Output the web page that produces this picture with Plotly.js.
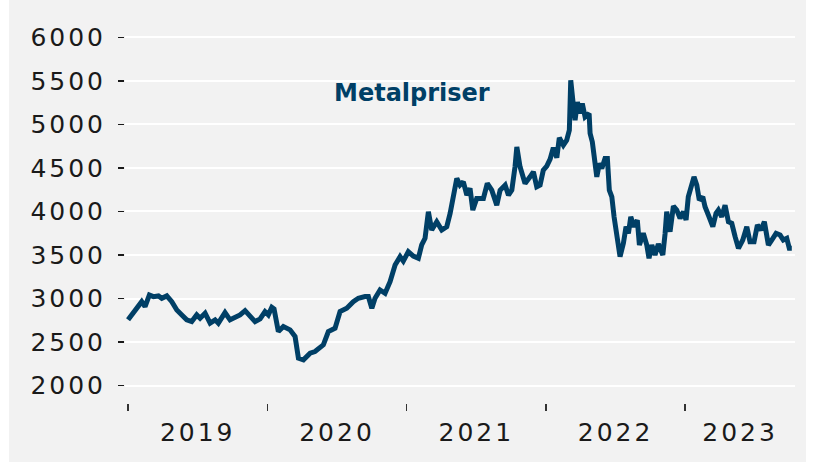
<!DOCTYPE html>
<html>
<head>
<meta charset="utf-8">
<script src="https://cdn.plot.ly/plotly-3.0.1.min.js"></script>
<style>
  html, body { margin: 0; padding: 0; background: #ffffff; }
  #chart { position: absolute; left: 9px; top: 0px; width: 797px; height: 462px; }
  #chart .xtick text, #chart .ytick text { letter-spacing: 3px; }
</style>
</head>
<body>
<div id="chart"></div>
<script>
// Time in decimal years
const years = [
  2019.000, 2019.027, 2019.062, 2019.098, 2019.122, 2019.153, 2019.182, 2019.218, 2019.242, 2019.278,
  2019.314, 2019.350, 2019.386, 2019.421, 2019.457, 2019.493, 2019.517, 2019.553, 2019.589, 2019.625,
  2019.648, 2019.696, 2019.732, 2019.768, 2019.804, 2019.840, 2019.876, 2019.912,
  2019.948, 2019.983, 2020.007, 2020.032, 2020.048, 2020.079, 2020.115, 2020.163, 2020.199, 2020.223,
  2020.259, 2020.307, 2020.342, 2020.378, 2020.402, 2020.438, 2020.486, 2020.522, 2020.570, 2020.617,
  2020.653, 2020.701, 2020.725, 2020.750, 2020.773, 2020.809, 2020.845, 2020.881, 2020.917, 2020.953,
  2020.976, 2021.012, 2021.048, 2021.084, 2021.108, 2021.132, 2021.156, 2021.180, 2021.216, 2021.252,
  2021.288, 2021.312, 2021.335, 2021.360, 2021.383, 2021.407, 2021.432, 2021.455, 2021.475, 2021.503,
  2021.551, 2021.579, 2021.611, 2021.647, 2021.671, 2021.707, 2021.731, 2021.755, 2021.778, 2021.791,
  2021.814, 2021.850, 2021.886, 2021.910, 2021.934, 2021.958,
  2021.981, 2022.006, 2022.030, 2022.053, 2022.078, 2022.096, 2022.125, 2022.149, 2022.168, 2022.178,
  2022.193, 2022.209, 2022.226, 2022.245, 2022.261, 2022.281, 2022.310, 2022.317, 2022.333, 2022.348,
  2022.365, 2022.384, 2022.401, 2022.424, 2022.441, 2022.455, 2022.473, 2022.489, 2022.513, 2022.532,
  2022.556, 2022.575, 2022.592, 2022.609, 2022.633, 2022.656, 2022.671, 2022.699, 2022.724,
  2022.740, 2022.760, 2022.783, 2022.807, 2022.839, 2022.855, 2022.867, 2022.891, 2022.915, 2022.939,
  2022.963, 2022.987, 2023.006, 2023.022, 2023.047, 2023.063, 2023.083, 2023.101, 2023.126, 2023.142,
  2023.166, 2023.198, 2023.221, 2023.238, 2023.262, 2023.286, 2023.310, 2023.334, 2023.358, 2023.382,
  2023.413, 2023.442, 2023.465, 2023.494, 2023.518, 2023.544, 2023.568, 2023.597, 2023.621, 2023.652,
  2023.681, 2023.704, 2023.729, 2023.747, 2023.765
];
const metalPrices = [
  2755, 2812, 2907, 2964, 2907, 3041, 3022, 3030, 3003, 3030,
  2964, 2869, 2812, 2755, 2735, 2812, 2774, 2831, 2717, 2755,
  2717, 2838, 2755, 2785, 2812, 2861, 2792, 2735,
  2766, 2850, 2812, 2900, 2881, 2620, 2678, 2640, 2563, 2315,
  2296, 2373, 2391, 2430, 2468, 2620, 2659, 2850, 2889, 2964,
  3003, 3022, 3022, 2889, 3003, 3099, 3061, 3194, 3385, 3481,
  3430, 3538, 3488, 3462, 3615, 3692, 3997, 3787, 3882, 3787,
  3825, 3978, 4150, 4380, 4303, 4341, 4188, 4265, 4016, 4150,
  4150, 4322, 4245, 4073, 4245, 4303, 4188, 4245, 4513, 4742,
  4513, 4322, 4398, 4455, 4283, 4303,
  4475, 4521, 4601, 4733, 4618, 4847, 4761, 4819, 4933, 5507,
  5278, 5048, 5258, 5125, 5240, 5086, 5125, 4896, 4799, 4627,
  4398, 4552, 4494, 4609, 4609, 4245, 4169, 3939, 3710, 3481,
  3634, 3825, 3749, 3939, 3825, 3901, 3615, 3749, 3615,
  3462, 3615, 3500, 3626, 3500, 3741, 3997, 3767, 4062, 4016,
  3921, 3997, 3901, 4169, 4341, 4398, 4303, 4131, 4169, 4054,
  3959, 3825, 3978, 4016, 3939, 4073, 3882, 3864, 3710, 3577,
  3672, 3825, 3653, 3653, 3844, 3787, 3882, 3615, 3672, 3749,
  3729, 3672, 3692, 3577, 3577
];
const yearLabels = ['2019', '2020', '2021', '2022', '2023'];
const yTickValues = [2000, 2500, 3000, 3500, 4000, 4500, 5000, 5500, 6000];
const seriesName = 'Metalpriser';

const xRange = [2018.978, 2023.788];
const yRange = [1800, 6050];

// label in the middle of the visible part of each year
const labelPos = yearLabels.map(l => {
  const s = Math.max(+l, xRange[0]);
  const e = Math.min(+l + 1, xRange[1]);
  return (s + e) / 2;
});
const yearStarts = yearLabels.map(l => +l);

const lineColor = '#003f66';
const tickFont = { family: 'DejaVu Sans, sans-serif', size: 25, color: '#1a1a1a' };

const trace = {
  x: years, y: metalPrices, type: 'scatter', mode: 'lines', name: seriesName,
  line: { color: lineColor, width: 5 }, hoverinfo: 'skip'
};

const layout = {
  width: 797, height: 462,
  paper_bgcolor: '#f2f2f2', plot_bgcolor: '#f2f2f2',
  margin: { l: 116, r: 11, t: 32.6, b: 58.6, pad: 0 },
  showlegend: false,
  xaxis: {
    type: 'linear', range: xRange, showgrid: false, zeroline: false, showline: false,
    tickmode: 'array', tickvals: labelPos, ticktext: yearLabels, ticks: '',
    tickfont: tickFont, ticklabelstandoff: 12,
    minor: { tickmode: 'array', tickvals: yearStarts, ticks: 'outside', ticklen: 7, tickwidth: 1.5, tickcolor: '#333333', showgrid: false }
  },
  yaxis: {
    range: yRange, tickmode: 'array', tickvals: yTickValues,
    showgrid: true, gridcolor: '#ffffff', gridwidth: 2, zeroline: false, showline: false,
    ticks: 'outside', ticklen: 6, tickwidth: 1.5, tickcolor: '#1a1a1a',
    tickfont: tickFont, ticklabelstandoff: 7
  },
  annotations: [{
    text: seriesName, xref: 'paper', yref: 'paper', x: 0.428, y: 0.837,
    xanchor: 'center', yanchor: 'middle', showarrow: false,
    font: { family: 'DejaVu Sans, sans-serif', size: 24, color: lineColor, weight: 'bold' }
  }]
};

Plotly.newPlot('chart', [trace], layout, { displayModeBar: false, staticPlot: true });
</script>
</body>
</html>
